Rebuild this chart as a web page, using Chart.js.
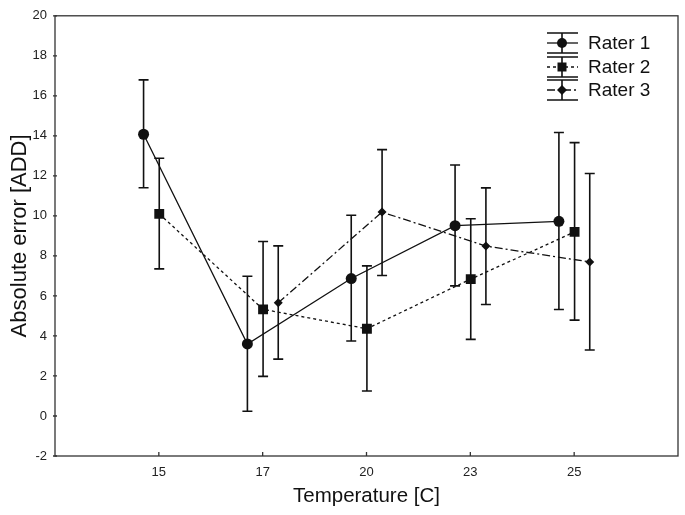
<!DOCTYPE html>
<html>
<head>
<meta charset="utf-8">
<script src="https://cdn.jsdelivr.net/npm/chart.js@4"></script>
<style>
  html, body { margin: 0; padding: 0; background: #fff; }
  #wrap { width: 685px; height: 515px; }
</style>
</head>
<body>
<div id="wrap"><canvas id="errChart" width="685" height="515"></canvas></div>
<script>
// temperatures shown on the x axis
const categories = ['15', '17', '20', '23', '25'];
const tickPositions = [1, 2, 3, 4, 5];
const yTicks = [-2, 0, 2, 4, 6, 8, 10, 12, 14, 16, 18, 20];

// mean absolute error and error bar limits per rater
const rater1Mean = [14.08, 3.6, 6.87, 9.51, 9.73];
const rater1Low = [11.41, 0.24, 3.75, 6.5, 5.32];
const rater1High = [16.8, 6.98, 10.03, 12.54, 14.17];

const rater2Mean = [10.1, 5.33, 4.36, 6.84, 9.2];
const rater2Low = [7.35, 1.98, 1.25, 3.83, 4.79];
const rater2High = [12.88, 8.72, 7.5, 9.86, 13.66];

const rater3Mean = [null, 5.66, 10.19, 8.49, 7.7];
const rater3Low = [null, 2.84, 7.02, 5.57, 3.3];
const rater3High = [null, 8.5, 13.31, 11.4, 12.12];

// small horizontal shift of each rater around the category
const shifts = [-0.147, 0.004, 0.15];

const ink = '#111';
const font = 'Arial, "Liberation Sans", sans-serif';

function buildPoints(mean, shift) {
    const pts = [];
    mean.forEach((v, i) => {
        if (v !== null) pts.push({ x: tickPositions[i] + shift, y: v });
    });
    return pts;
}

function keepValues(arr) {
    return arr.filter(v => v !== null);
}

const errorBars = {
    id: 'errorBars',
    afterDatasetsDraw(chart) {
        const ctx = chart.ctx;
        const y = chart.scales.y;
        ctx.save();
        ctx.strokeStyle = ink;
        ctx.lineWidth = 1.6;
        chart.data.datasets.forEach((ds, di) => {
            const meta = chart.getDatasetMeta(di);
            meta.data.forEach((pt, i) => {
                const top = y.getPixelForValue(ds.errHigh[i]);
                const bot = y.getPixelForValue(ds.errLow[i]);
                ctx.beginPath();
                ctx.moveTo(pt.x, top);
                ctx.lineTo(pt.x, bot);
                ctx.moveTo(pt.x - 5, top);
                ctx.lineTo(pt.x + 5, top);
                ctx.moveTo(pt.x - 5, bot);
                ctx.lineTo(pt.x + 5, bot);
                ctx.stroke();
            });
        });
        ctx.restore();
    }
};

const frame = {
    id: 'frame',
    afterDraw(chart) {
        const ctx = chart.ctx;
        const a = chart.chartArea;
        ctx.save();
        ctx.strokeStyle = '#333';
        ctx.lineWidth = 1.3;
        ctx.strokeRect(a.left, a.top, a.right - a.left, a.bottom - a.top);
        ctx.beginPath();
        tickPositions.forEach(v => {
            const px = chart.scales.x.getPixelForValue(v);
            ctx.moveTo(px, a.bottom);
            ctx.lineTo(px, a.bottom - 4);
        });
        yTicks.forEach(v => {
            const py = chart.scales.y.getPixelForValue(v);
            ctx.moveTo(a.left - 2, py);
            ctx.lineTo(a.left + 2, py);
        });
        ctx.stroke();

        // legend
        const names = chart.data.datasets.map(d => d.label);
        const rows = [43, 67, 90];
        const x0 = 547, x1 = 578, xm = 562;
        chart.data.datasets.forEach((ds, i) => {
            const cy = rows[i];
            ctx.strokeStyle = ink;
            ctx.lineWidth = 1.6;
            ctx.setLineDash([]);
            ctx.beginPath();
            ctx.moveTo(x0, cy - 10); ctx.lineTo(x1, cy - 10);
            ctx.moveTo(x0, cy + 10); ctx.lineTo(x1, cy + 10);
            ctx.moveTo(xm, cy - 10); ctx.lineTo(xm, cy + 10);
            ctx.stroke();
            ctx.lineWidth = 1.3;
            ctx.setLineDash(ds.borderDash || []);
            ctx.beginPath();
            ctx.moveTo(x0, cy); ctx.lineTo(x1, cy);
            ctx.stroke();
            ctx.setLineDash([]);
            ctx.fillStyle = ink;
            ctx.beginPath();
            if (ds.pointStyle === 'circle') {
                ctx.arc(xm, cy, 5, 0, Math.PI * 2);
            } else if (ds.pointStyle === 'rect') {
                ctx.rect(xm - 4.5, cy - 4.5, 9, 9);
            } else {
                ctx.moveTo(xm, cy - 5); ctx.lineTo(xm + 5, cy);
                ctx.lineTo(xm, cy + 5); ctx.lineTo(xm - 5, cy);
                ctx.closePath();
            }
            ctx.fill();
            ctx.font = '19px ' + font;
            ctx.textBaseline = 'middle';
            ctx.textAlign = 'left';
            ctx.fillText(names[i], 588, cy + 1);
        });
        ctx.restore();
    }
};

const ctx = document.getElementById('errChart').getContext('2d');
const chart = new Chart(ctx, {
    type: 'scatter',
    data: {
        datasets: [{
            label: 'Rater 1',
            data: buildPoints(rater1Mean, shifts[0]),
            errLow: keepValues(rater1Low),
            errHigh: keepValues(rater1High),
            showLine: true,
            borderColor: ink,
            backgroundColor: ink,
            borderWidth: 1.3,
            pointStyle: 'circle',
            pointRadius: 5.5,
            pointBorderWidth: 0
        }, {
            label: 'Rater 2',
            data: buildPoints(rater2Mean, shifts[1]),
            errLow: keepValues(rater2Low),
            errHigh: keepValues(rater2High),
            showLine: true,
            borderColor: ink,
            backgroundColor: ink,
            borderWidth: 1.3,
            borderDash: [3, 3],
            pointStyle: 'rect',
            pointRadius: 7,
            pointBorderWidth: 0
        }, {
            label: 'Rater 3',
            data: buildPoints(rater3Mean, shifts[2]),
            errLow: keepValues(rater3Low),
            errHigh: keepValues(rater3High),
            showLine: true,
            borderColor: ink,
            backgroundColor: ink,
            borderWidth: 1.3,
            borderDash: [8, 3, 2, 3],
            pointStyle: 'rectRot',
            pointRadius: 4.5,
            pointBorderWidth: 0
        }]
    },
    options: {
        responsive: false,
        animation: false,
        layout: { padding: { top: 13, right: 3, left: 0, bottom: 0 } },
        plugins: {
            legend: { display: false },
            tooltip: { enabled: false }
        },
        scales: {
            x: {
                type: 'linear',
                min: 0,
                max: 6,
                grid: { display: false, drawTicks: false },
                border: { display: false },
                afterBuildTicks: scale => {
                    scale.ticks = tickPositions.map(v => ({ value: v }));
                },
                afterFit: scale => { scale.height = 59; },
                ticks: {
                    padding: 9,
                    color: '#222',
                    font: { family: font, size: 13 },
                    callback: value => categories[tickPositions.indexOf(value)]
                },
                title: {
                    display: true,
                    text: 'Temperature [C]',
                    color: '#111',
                    font: { family: font, size: 20.5 },
                    padding: { top: 0, bottom: 6 }
                }
            },
            y: {
                min: -2,
                max: 20,
                grid: { display: false, drawTicks: false },
                border: { display: false },
                afterBuildTicks: scale => {
                    scale.ticks = yTicks.map(v => ({ value: v }));
                },
                afterFit: scale => { scale.width = 55; },
                ticks: {
                    padding: 8,
                    color: '#222',
                    font: { family: font, size: 13 }
                },
                title: {
                    display: true,
                    text: 'Absolute error [ADD]',
                    color: '#111',
                    font: { family: font, size: 22 },
                    padding: { top: 7, bottom: 0 }
                }
            }
        }
    },
    plugins: [errorBars, frame]
});
</script>
</body>
</html>
